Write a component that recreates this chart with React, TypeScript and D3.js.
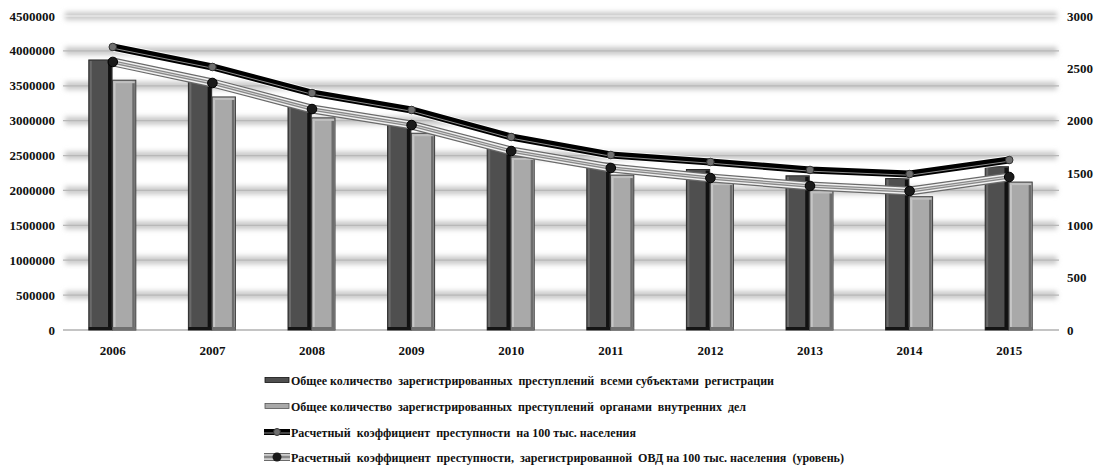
import React from "react";
import * as d3 from "d3";

const years = ["2006", "2007", "2008", "2009", "2010", "2011", "2012", "2013", "2014", "2015"];
const totalAll = [3870000, 3580000, 3220000, 2980000, 2610000, 2390000, 2300000, 2210000, 2170000, 2340000];
const totalOVD = [3580000, 3340000, 3040000, 2820000, 2480000, 2220000, 2120000, 2000000, 1910000, 2120000];
const rateAll = [2704, 2513, 2264, 2102, 1844, 1672, 1605, 1529, 1490, 1624];
const rateOVD = [2561, 2360, 2111, 1958, 1710, 1548, 1452, 1376, 1328, 1462];
const leftTicks = [0, 500000, 1000000, 1500000, 2000000, 2500000, 3000000, 3500000, 4000000, 4500000];
const rightTicks = [0, 500, 1000, 1500, 2000, 2500, 3000];
const legendLabels = [
  "Общее количество  зарегистрированных  преступлений  всеми субъектами  регистрации",
  "Общее количество  зарегистрированных  преступлений  органами  внутренних  дел",
  "Расчетный  коэффициент  преступности  на 100 тыс. населения",
  "Расчетный  коэффициент  преступности,  зарегистрированной  ОВД на 100 тыс. населения  (уровень)",
];

const W = 1105;
const H = 468;
const left = 63;
const right = 1059;
const top = 16;
const bottom = 330;
const font = "'Liberation Serif', 'Times New Roman', serif";

export default function App() {
  const x = d3.scaleBand<string>().domain(years).range([left, right]).paddingInner(0).paddingOuter(0);
  const inner = d3.scaleBand<string>().domain(["a", "b"]).range([-24, 23]).paddingInner(0.02);
  const yL = d3.scaleLinear().domain([0, 4500000]).range([bottom, top]);
  const yR = d3.scaleLinear().domain([0, 3000]).range([bottom, top]);
  const cx = (y: string) => (x(y) as number) + x.bandwidth() / 2;
  const line = d3.line<number>().x((_, i) => cx(years[i])).y((v) => yR(v));
  const pathAll = line(rateAll) as string;
  const pathOVD = line(rateOVD) as string;
  const legendW = [483, 455, 345, 553];
  const legendY = [380, 406, 432, 457];

  return (
    <svg width={W} height={H} style={{ position: "absolute", left: 0, top: 0, background: "#fff" }}>
      <defs>
        <filter id="blur" filterUnits="userSpaceOnUse" x={0} y={0} width={W} height={H}>
          <feGaussianBlur stdDeviation="2.4" />
        </filter>
      </defs>
      {/* gridlines */}
      <g filter="url(#blur)">
        {leftTicks.filter((t) => t !== 0).map((t) => (
          <rect key={t} x={left + 2} y={yL(t) - 4} width={right - left - 4} height={8} fill="#c9c9c9" />
        ))}
      </g>
      {leftTicks.filter((t) => t !== 0).map((t) => (
        <line key={t} x1={left} x2={right} y1={yL(t)} y2={yL(t)} stroke={t === 4500000 ? "#f4f4f4" : "#b8b8b8"} strokeWidth={1.2} />
      ))}
      <line x1={left} x2={right} y1={bottom} y2={bottom} stroke="#b0b0b0" strokeWidth={1.5} />

      {/* bars */}
      {years.map((yr, i) => {
        const bx = (x(yr) as number) + x.bandwidth() / 2;
        const bw = inner.bandwidth();
        const ax = bx + (inner("a") as number);
        const lx = bx + (inner("b") as number);
        const ay = yL(totalAll[i]);
        const ly = yL(totalOVD[i]);
        return (
          <g key={yr}>
            <rect x={ax} y={ay} width={bw} height={bottom - ay} fill="#4f4f4f" stroke="#2a2a2a" strokeWidth={1} />
            <rect x={ax + 1} y={ay + 1} width={2} height={bottom - ay - 2} fill="#6a6a6a" />
            <rect x={ax + bw - 4} y={ay + 1} width={3.5} height={bottom - ay - 1} fill="#111" />
            <rect x={ax} y={bottom - 3} width={bw} height={3} fill="#151515" />
            <rect x={lx} y={ly} width={bw} height={bottom - ly} fill="#a9a9a9" stroke="#3a3a3a" strokeWidth={1} />
            <rect x={lx + 1} y={ly + 1} width={2} height={bottom - ly - 2} fill="#c6c6c6" />
            <rect x={lx + bw - 3.5} y={ly + 1} width={2.5} height={bottom - ly - 2} fill="#6c6c6c" />
            <rect x={lx + 1} y={ly + 1} width={bw - 2} height={2} fill="#c0c0c0" />
            <rect x={lx} y={bottom - 3} width={bw} height={3} fill="#707070" />
          </g>
        );
      })}

      {/* OVD rate line */}
      <path d={pathOVD} fill="none" stroke="#6a6a6a" strokeWidth={9} strokeLinejoin="round" />
      <path d={pathOVD} fill="none" stroke="#f2f2f2" strokeWidth={6.5} strokeLinejoin="round" />
      <path d={pathOVD} fill="none" stroke="#888" strokeWidth={3.5} strokeLinejoin="round" />
      <path d={pathOVD} fill="none" stroke="#d8d8d8" strokeWidth={1} strokeLinejoin="round" />
      {/* total rate line */}
      <path d={pathAll} fill="none" stroke="#fff" strokeWidth={9} strokeLinejoin="round" opacity={0.8} />
      <path d={pathAll} fill="none" stroke="#000" strokeWidth={7} strokeLinejoin="round" />
      <path d={pathAll} fill="none" stroke="#8a8a8a" strokeWidth={1} strokeLinejoin="round" transform="translate(0,1.2)" />

      {rateOVD.map((v, i) => (
        <circle key={"o" + i} cx={cx(years[i])} cy={yR(v)} r={4.8} fill="#1a1a1a" stroke="#000" strokeWidth={1} />
      ))}
      {rateAll.map((v, i) => (
        <circle key={"a" + i} cx={cx(years[i])} cy={yR(v)} r={3.8} fill="#707070" stroke="#333" strokeWidth={1} />
      ))}

      {/* left axis labels */}
      {leftTicks.map((t) => (
        <text key={t} x={55} y={yL(t)} dy="0.35em" textAnchor="end" fontFamily={font} fontWeight="bold" fontSize={13} fill="#111">
          {t}
        </text>
      ))}
      {/* right axis labels */}
      {rightTicks.map((t) => (
        <text key={t} x={1067} y={yR(t)} dy="0.35em" textAnchor="start" fontFamily={font} fontWeight="bold" fontSize={13} fill="#111">
          {t}
        </text>
      ))}
      {/* category labels */}
      {years.map((yr) => (
        <text key={yr} x={cx(yr)} y={355} textAnchor="middle" fontFamily={font} fontWeight="bold" fontSize={13} fill="#111">
          {yr}
        </text>
      ))}

      {/* legend */}
      <g>
        <rect x={265} y={legendY[0] - 2.5} width={24} height={5} fill="#4f4f4f" stroke="#111" strokeWidth={0.8} />
        <rect x={265} y={legendY[1] - 2.5} width={24} height={5} fill="#a9a9a9" stroke="#555" strokeWidth={0.8} />
        <line x1={264} x2={290} y1={legendY[2]} y2={legendY[2]} stroke="#000" strokeWidth={6} />
        <line x1={264} x2={290} y1={legendY[2] + 1} y2={legendY[2] + 1} stroke="#8a8a8a" strokeWidth={1} />
        <circle cx={277} cy={legendY[2]} r={3.5} fill="#707070" stroke="#333" strokeWidth={1} />
        <line x1={264} x2={290} y1={legendY[3]} y2={legendY[3]} stroke="#6a6a6a" strokeWidth={8} />
        <line x1={264} x2={290} y1={legendY[3]} y2={legendY[3]} stroke="#f2f2f2" strokeWidth={5.5} />
        <line x1={264} x2={290} y1={legendY[3]} y2={legendY[3]} stroke="#888" strokeWidth={3} />
        <circle cx={277} cy={legendY[3]} r={4.5} fill="#1a1a1a" />
        {legendLabels.map((l, i) => (
          <text
            key={i}
            x={291}
            y={legendY[i]}
            dy="0.35em"
            fontFamily={font}
            fontWeight="bold"
            fontSize={13}
            fill="#111"
            textLength={legendW[i]}
            lengthAdjust="spacingAndGlyphs"
            style={{ whiteSpace: "pre" }}
          >
            {l}
          </text>
        ))}
      </g>
    </svg>
  );
}
